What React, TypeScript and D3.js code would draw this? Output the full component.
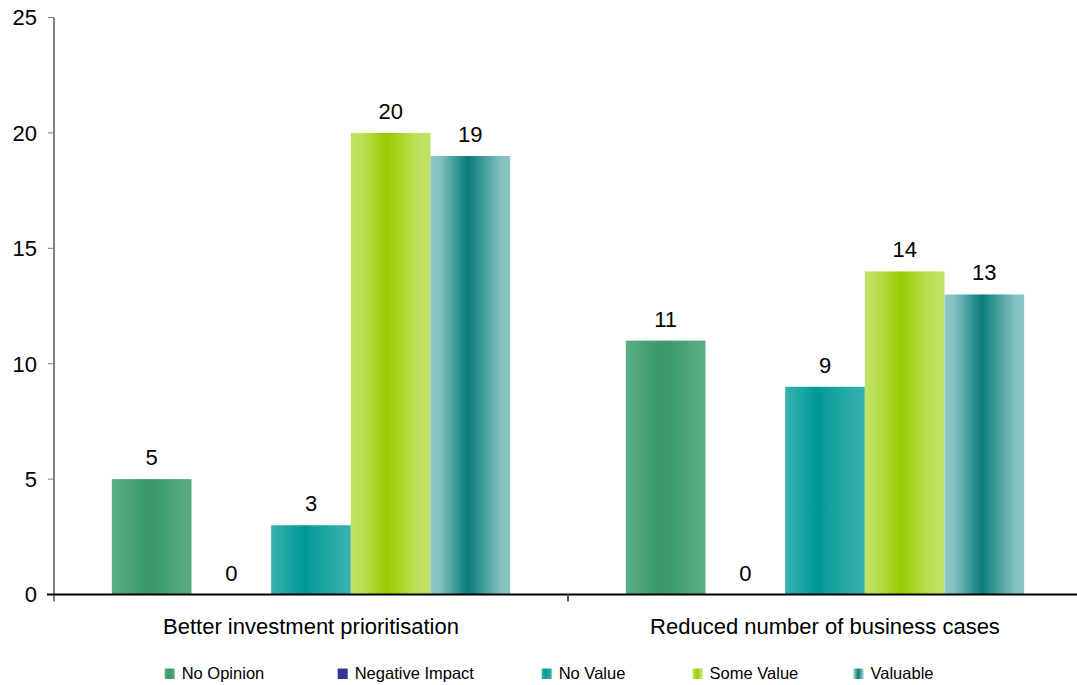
import React from "react";
import * as d3 from "d3";

const categories = ["Better investment prioritisation", "Reduced number of business cases"];
const seriesNames = ["No Opinion", "Negative Impact", "No Value", "Some Value", "Valuable"];
const noOpinion = [5, 11];
const negativeImpact = [0, 0];
const noValue = [3, 9];
const someValue = [20, 14];
const valuable = [19, 13];
const yTicks = [0, 5, 10, 15, 20, 25];

const seriesValues = [noOpinion, negativeImpact, noValue, someValue, valuable];

const gradients: { id: string; stops: [number, string][] }[] = [
  { id: "g0", stops: [[0, "#5cae84"], [0.42, "#3a9968"], [0.55, "#3d9b6b"], [1, "#5cae84"]] },
  { id: "g1", stops: [[0, "#333399"], [1, "#333399"]] },
  { id: "g2", stops: [[0, "#38b1b0"], [0.42, "#009896"], [0.55, "#12a09e"], [1, "#38b1b0"]] },
  { id: "g3", stops: [[0, "#c2e264"], [0.12, "#bce05a"], [0.45, "#99cc00"], [0.85, "#bee05e"], [1, "#c2e264"]] },
  { id: "g4", stops: [[0, "#8cc6c6"], [0.12, "#84c0c0"], [0.47, "#087c7a"], [0.88, "#84c0c0"], [1, "#8cc6c6"]] },
];

const W = 1077;
const H = 685;
const left = 54;
const bottom = 594.5;
const top = 17.5;

export default function App() {
  const x0 = d3.scaleBand<string>().domain(categories).range([left, left + 1028]).padding(0);
  const bw = x0.bandwidth();
  const gap = bw * 0.1125;
  const x1 = d3.scaleBand<string>().domain(seriesNames).range([gap, bw - gap]).padding(0);
  const y = d3.scaleLinear().domain([0, 25]).range([bottom, top]);

  const legendX = [164.7, 337.7, 541.7, 692.6, 853.5];

  return (
    <svg width={W} height={H} style={{ position: "absolute", left: 0, top: 0, background: "#fff" }}
      fontFamily="'Liberation Sans', Arial, sans-serif">
      <defs>
        {gradients.map((g) => (
          <linearGradient key={g.id} id={g.id} x1="0" y1="0" x2="1" y2="0">
            {g.stops.map(([o, c], i) => (
              <stop key={i} offset={o} stopColor={c} />
            ))}
          </linearGradient>
        ))}
      </defs>

      {categories.map((cat, ci) => (
        <g key={cat} transform={`translate(${x0(cat)},0)`}>
          {seriesNames.map((s, si) => {
            const v = seriesValues[si][ci];
            const bx = x1(s)!;
            const by = y(v);
            return (
              <g key={s}>
                {v > 0 && (
                  <rect x={bx} y={by} width={x1.bandwidth()} height={bottom - by} fill={`url(#g${si})`} />
                )}
                <text x={bx + x1.bandwidth() / 2} y={by - 14} textAnchor="middle" fontSize={22} fill="#000">
                  {v}
                </text>
              </g>
            );
          })}
        </g>
      ))}

      <line x1={left} x2={left} y1={top} y2={bottom + 7} stroke="#808080" strokeWidth={2} />
      {yTicks.map((t) => (
        <g key={t}>
          <line x1={left - 6} x2={left} y1={y(t)} y2={y(t)} stroke="#808080" strokeWidth={1} />
          <text x={37} y={y(t)} dy="0.36em" textAnchor="end" fontSize={22} fill="#000">
            {t}
          </text>
        </g>
      ))}

      <line x1={47} x2={W} y1={bottom} y2={bottom} stroke="#000" strokeWidth={2} />
      {categories.slice(1).map((c) => (
        <line key={c} x1={x0(c)!} x2={x0(c)!} y1={bottom} y2={bottom + 7} stroke="#555" strokeWidth={2} />
      ))}
      {categories.map((c) => (
        <text key={c} x={x0(c)! + bw / 2} y={634} textAnchor="middle" fontSize={22} fill="#000">
          {c}
        </text>
      ))}

      {seriesNames.map((s, i) => (
        <g key={s}>
          <rect x={legendX[i]} y={668.5} width={10} height={10.5} fill={`url(#g${i})`} />
          <text x={legendX[i] + 17} y={679} fontSize={16.5} fill="#000">
            {s}
          </text>
        </g>
      ))}
    </svg>
  );
}
